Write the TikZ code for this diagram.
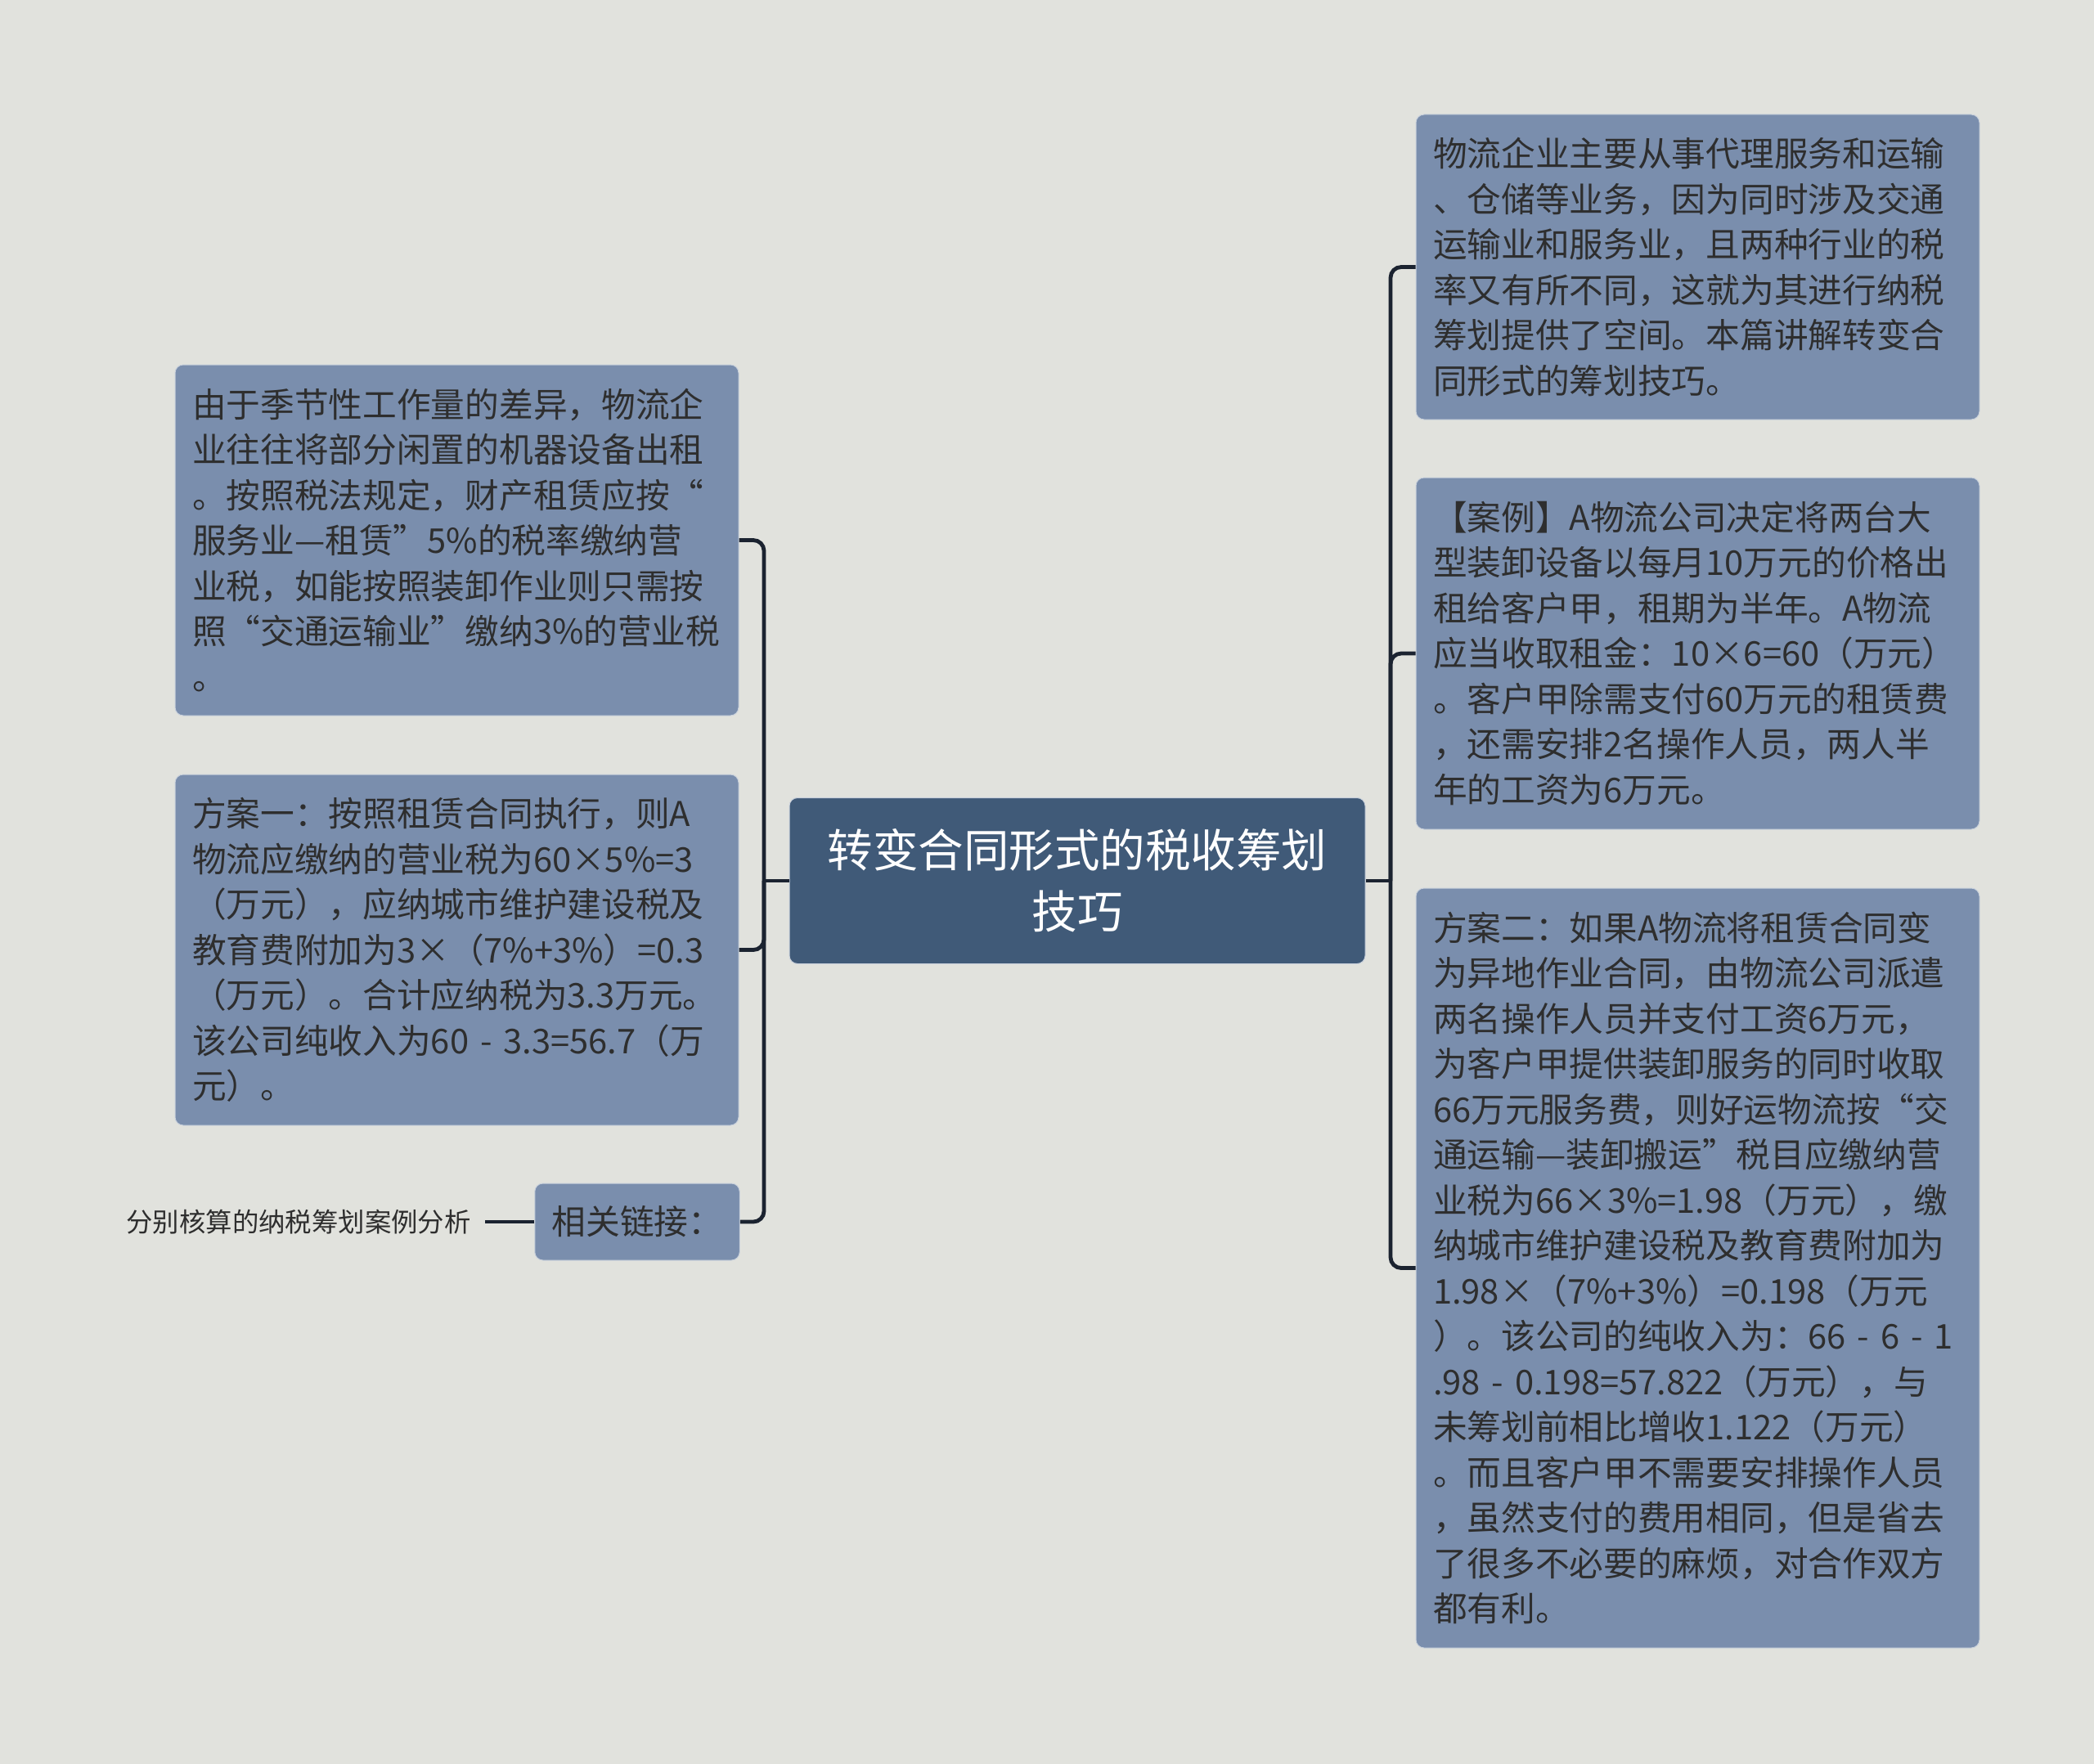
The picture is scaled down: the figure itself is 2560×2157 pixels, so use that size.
\documentclass[tikz,border=0pt]{standalone}
\usepackage{fontspec}
\setmainfont{Noto Sans CJK SC}
\definecolor{bgcol}{HTML}{E1E2DD}
\definecolor{boxcol}{HTML}{7A8EAD}
\definecolor{boxline}{HTML}{C9D1DC}
\definecolor{topiccol}{HTML}{405A78}
\definecolor{txtcol}{HTML}{2E2E2E}
\definecolor{linkcol}{HTML}{1B2330}
\begin{document}
\begin{tikzpicture}[x=0.5pt, y=-0.5pt,
    box/.style={rounded corners=5pt, fill=boxcol, draw=boxline, line width=0.5pt, text=txtcol,
        font=\fontsize{20.85}{27.75}\selectfont, align=left, inner xsep=10.5pt, inner ysep=0pt},
    para/.style={box, text width=323.5pt},
    topic/.style={box, fill=topiccol, text=white, align=center, font=\fontsize{27.75}{37.5}\selectfont,
        minimum width=352pt, minimum height=101.5pt},
    leaf/.style={text=txtcol, font=\fontsize{16.2}{20}\selectfont, inner xsep=8.5pt},
    link/.style={draw=linkcol, line width=2.4pt, rounded corners=6.5pt}]
        % Background
        \fill[bgcol] (0,0) rectangle (2560,2157);
        % Central topic
        \node[topic] (topic) at (1317,1077) {转变合同形式的税收筹划\\技巧};
        % Left branches
        \node[para, minimum height=214.5pt] (lsea) at (558.5,660.5) {由于季节性工作量的差异，物流企\\业往往将部分闲置的机器设备出租\\。按照税法规定，财产租赁应按“\\服务业—租赁”5\%的税率缴纳营\\业税，如能按照装卸作业则只需按\\照“交通运输业”缴纳3\%的营业税\\。};
        \node[para, minimum height=214.5pt] (lplan) at (558.5,1161.5) {方案一：按照租赁合同执行，则A\\物流应缴纳的营业税为60×5\%=3\\（万元），应纳城市维护建设税及\\教育费附加为3×（7\%+3\%）=0.3\\（万元）。合计应纳税为3.3万元。\\该公司纯收入为60~-~3.3=56.7（万\\元）。};
        \node[box, minimum width=124pt, minimum height=47pt] (llink) at (779,1494) {相关链接：};
        \node[leaf, anchor=east] (ltip) at (593,1494) {分别核算的纳税筹划案例分析};
        % Right branches
        \node[para, minimum height=186.5pt] (rintro) at (2075.5,326.5) {物流企业主要从事代理服务和运输\\、仓储等业务，因为同时涉及交通\\运输业和服务业，且两种行业的税\\率又有所不同，这就为其进行纳税\\筹划提供了空间。本篇讲解转变合\\同形式的筹划技巧。};
        \node[para, minimum height=215pt] (rcase) at (2075.5,799) {【案例】A物流公司决定将两台大\\型装卸设备以每月10万元的价格出\\租给客户甲，租期为半年。A物流\\应当收取租金：10×6=60（万元）\\。客户甲除需支付60万元的租赁费\\，还需安排2名操作人员，两人半\\年的工资为6万元。};
        \node[para, minimum height=464.5pt] (rplan) at (2075.5,1550.5) {方案二：如果A物流将租赁合同变\\为异地作业合同，由物流公司派遣\\两名操作人员并支付工资6万元，\\为客户甲提供装卸服务的同时收取\\66万元服务费，则好运物流按“交\\通运输—装卸搬运”税目应缴纳营\\业税为66×3\%=1.98（万元），缴\\纳城市维护建设税及教育费附加为\\1.98×（7\%+3\%）=0.198（万元\\）。该公司的纯收入为：66~-~6~-~1\\.98~-~0.198=57.822（万元），与\\未筹划前相比增收1.122（万元）\\。而且客户甲不需要安排操作人员\\，虽然支付的费用相同，但是省去\\了很多不必要的麻烦，对合作双方\\都有利。};
        % Draw links
        \coordinate (lbus) at (934,1077);
        \coordinate (rbus) at (1700,1077);
        \draw[link] (topic.west) -- (lbus);
        \draw[link] (topic.east) -- (rbus);
        \foreach \n in {lsea, lplan, llink} {
            \draw[link] (lbus) |- (\n.east);
        }
        \foreach \n in {rintro, rcase, rplan} {
            \draw[link] (rbus) |- (\n.west);
        }
        \draw[link] (llink.west) -- (ltip.east);
    \end{tikzpicture}
\end{document}
